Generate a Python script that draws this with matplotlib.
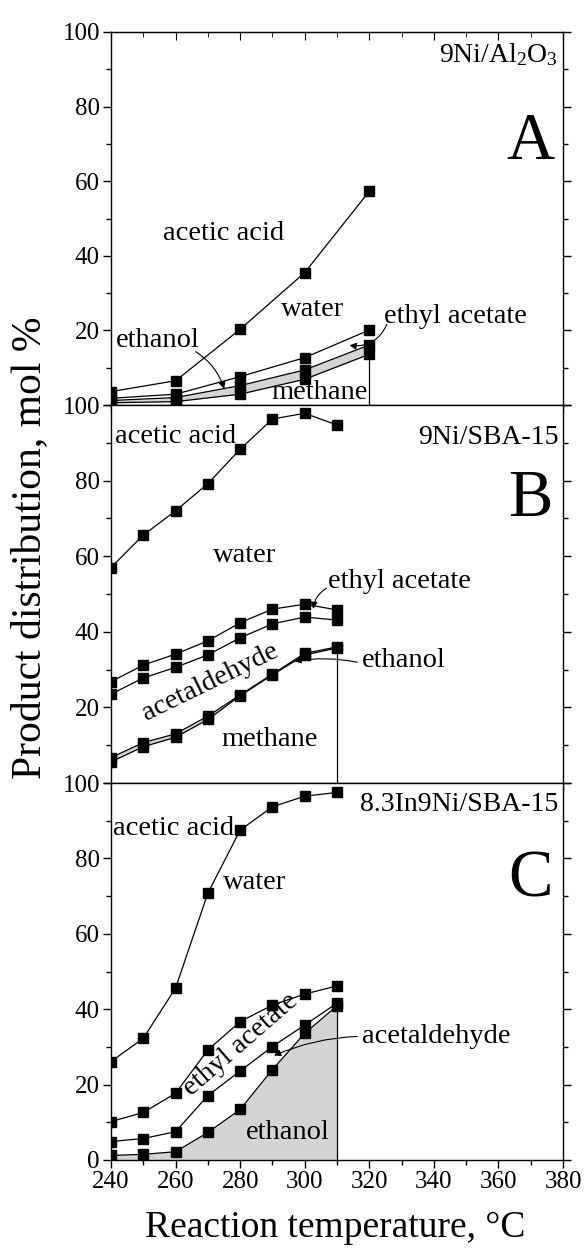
import matplotlib
matplotlib.use("Agg")
import matplotlib.pyplot as plt
from matplotlib.ticker import MultipleLocator

plt.rcParams["font.family"] = ["Liberation Serif", "DejaVu Serif"]
plt.rcParams["mathtext.fontset"] = "custom"
plt.rcParams["mathtext.rm"] = "Liberation Serif"
plt.rcParams["mathtext.it"] = "Liberation Serif:italic"

# reaction temperatures, degC
temp_a = [240, 260, 280, 300, 320]
temp_bc = [240, 250, 260, 270, 280, 290, 300, 310]

# cumulative boundaries (mol %), top to bottom
# A: 9Ni/Al2O3
a_acid = [3.6, 6.5, 20.3, 35.5, 57.3]
a_water = [1.8, 2.9, 7.6, 12.7, 20.1]
a_ethac = [1.2, 2.0, 5.2, 9.4, 16.1]
a_ethanol = [0.6, 0.9, 2.9, 6.9, 13.6]

# B: 9Ni/SBA-15
b_acid = [57.0, 65.6, 72.0, 79.2, 88.3, 96.3, 97.8, 94.7]
b_water = [26.8, 31.2, 34.1, 37.6, 42.4, 46.0, 47.3, 45.8]
b_ethac = [23.5, 27.8, 30.6, 33.9, 38.4, 42.1, 43.9, 43.1]
b_acetald = [6.7, 10.7, 13.0, 17.7, 23.3, 28.8, 34.3, 36.0]
b_ethanol = [5.6, 9.6, 12.1, 16.8, 23.1, 28.6, 33.9, 35.7]

# C: 8.3In9Ni/SBA-15
c_acid = [26.1, 32.3, 45.6, 70.8, 87.5, 93.7, 96.5, 97.5]
c_water = [10.2, 12.6, 17.7, 29.2, 36.7, 41.1, 44.0, 46.2]
c_ethac = [4.9, 5.7, 7.5, 17.1, 23.6, 30.1, 35.8, 41.6]
c_acetald = [1.2, 1.5, 2.2, 7.3, 13.4, 24.0, 33.6, 40.9]

grey = "#d4d4d4"
lab_fs = 20.5
arrow = dict(arrowstyle="-|>", color="black", lw=0.8, mutation_scale=10)

fig = plt.figure(figsize=(5.88, 12.5), dpi=100)
left, width = 0.1888, 0.7687
ax_a = fig.add_axes([left, 0.676, width, 0.2984])
ax_b = fig.add_axes([left, 0.3736, width, 0.3024])
ax_c = fig.add_axes([left, 0.072, width, 0.3016])


def draw_lines(ax, x, curves):
    for y in curves:
        ax.plot(x, y, color="black", lw=0.9, marker="s", ms=7,
                mec="black", mfc="black", zorder=3)


def style(ax, last=False):
    ax.set_xlim(240, 380)
    ax.set_ylim(0, 100)
    ax.xaxis.set_major_locator(MultipleLocator(20))
    ax.xaxis.set_minor_locator(MultipleLocator(10))
    ax.set_yticks(range(0, 101, 20))
    ax.yaxis.set_minor_locator(MultipleLocator(10))
    if last:
        ax.set_yticklabels(["0", "20", "40", "60", "80", "100"])
    else:
        ax.set_yticklabels(["", "20", "40", "60", "80", "100"])
        ax.set_xticklabels([])
    ax.tick_params(axis="both", which="both", direction="out",
                   labelsize=18, width=1, right=True, top=False, pad=2)
    ax.tick_params(which="major", length=6)
    ax.tick_params(which="minor", length=3.5)
    for s in ax.spines.values():
        s.set_linewidth(1)


# ---- panel A ----
ax_a.fill_between(temp_a, a_ethanol, a_ethac, color=grey, lw=0, zorder=1)
draw_lines(ax_a, temp_a, [a_acid, a_water, a_ethac, a_ethanol])
ax_a.vlines(temp_a[-1], 0, a_ethac[-1], color="black", lw=0.9)
style(ax_a)
top = ax_a.secondary_xaxis("top")
top.xaxis.set_major_locator(MultipleLocator(20))
top.xaxis.set_minor_locator(MultipleLocator(10))
top.tick_params(which="both", direction="in", labeltop=False)
top.tick_params(which="major", length=6)
top.tick_params(which="minor", length=3.5)

ax_a.text(378.5, 92, "9Ni/Al$_2$O$_3$", fontsize=20, ha="right", va="baseline")
ax_a.text(370, 70.5, "A", fontsize=48, ha="center", va="center")
ax_a.text(275, 46, "acetic acid", fontsize=lab_fs, ha="center", va="center")
ax_a.text(302.5, 25.5, "water", fontsize=lab_fs, ha="center", va="center")
ax_a.text(324.5, 23.6, "ethyl acetate", fontsize=lab_fs, ha="left", va="center")
ax_a.text(241.5, 17.2, "ethanol", fontsize=lab_fs, ha="left", va="center")
ax_a.text(304.5, 3.4, "methane", fontsize=lab_fs, ha="center", va="center")
ax_a.annotate("", xy=(313, 16.1), xytext=(325.8, 22.3),
              arrowprops=dict(arrow, connectionstyle="arc3,rad=-0.4"))
ax_a.annotate("", xy=(275.3, 3.6), xytext=(265.5, 14.7),
              arrowprops=dict(arrow, connectionstyle="arc3,rad=-0.2"))

# ---- panel B ----
ax_b.fill_between(temp_bc, b_ethanol, b_acetald, color=grey, lw=0, zorder=1)
draw_lines(ax_b, temp_bc, [b_acid, b_water, b_ethac, b_acetald, b_ethanol])
ax_b.vlines(temp_bc[-1], 0, b_acetald[-1], color="black", lw=0.9)
style(ax_b)

ax_b.text(378.5, 91.5, "9Ni/SBA-15", fontsize=20, ha="right", va="center")
ax_b.text(370, 75, "B", fontsize=48, ha="center", va="center")
ax_b.text(241.2, 91.7, "acetic acid", fontsize=lab_fs, ha="left", va="center")
ax_b.text(281.5, 60.3, "water", fontsize=lab_fs, ha="center", va="center")
ax_b.text(307.2, 53.2, "ethyl acetate", fontsize=lab_fs, ha="left", va="center")
ax_b.text(270.6, 26.7, "acetaldehyde", fontsize=lab_fs, ha="center",
          va="center", rotation=26)
ax_b.text(289.2, 11.4, "methane", fontsize=lab_fs, ha="center", va="center")
ax_b.text(317.6, 32.3, "ethanol", fontsize=lab_fs, ha="left", va="center")
ax_b.annotate("", xy=(302.6, 45.3), xytext=(307.5, 51.9),
              arrowprops=dict(arrow, connectionstyle="arc3,rad=0.3"))
ax_b.annotate("", xy=(295.9, 32.1), xytext=(317.1, 31.8),
              arrowprops=dict(arrow, connectionstyle="arc3,rad=0.1"))

# ---- panel C ----
ax_c.fill_between(temp_bc, 0, c_acetald, color=grey, lw=0, zorder=1)
draw_lines(ax_c, temp_bc, [c_acid, c_water, c_ethac, c_acetald])
ax_c.vlines(temp_bc[-1], 0, c_acetald[-1], color="black", lw=0.9)
style(ax_c, last=True)

ax_c.text(378.5, 94.2, "8.3In9Ni/SBA-15", fontsize=20, ha="right", va="center")
ax_c.text(370, 74.3, "C", fontsize=48, ha="center", va="center")
ax_c.text(240.6, 87.8, "acetic acid", fontsize=lab_fs, ha="left", va="center")
ax_c.text(284.6, 73.7, "water", fontsize=lab_fs, ha="center", va="center")
ax_c.text(280.2, 30.5, "ethyl acetate", fontsize=lab_fs, ha="center",
          va="center", rotation=41)
ax_c.text(317.7, 32.8, "acetaldehyde", fontsize=lab_fs, ha="left", va="center")
ax_c.text(294.8, 7.2, "ethanol", fontsize=lab_fs, ha="center", va="center")
ax_c.annotate("", xy=(289.7, 27.4), xytext=(317.1, 32.8),
              arrowprops=dict(arrow, connectionstyle="arc3,rad=0.1"))

fig.text(0.051, 0.5616, "Product distribution, mol %", fontsize=30,
         rotation=90, ha="center", va="center")
fig.text(0.570, 0.0176, "Reaction temperature, °C", fontsize=27,
         ha="center", va="center")

fig.savefig("out.png", dpi=100)
